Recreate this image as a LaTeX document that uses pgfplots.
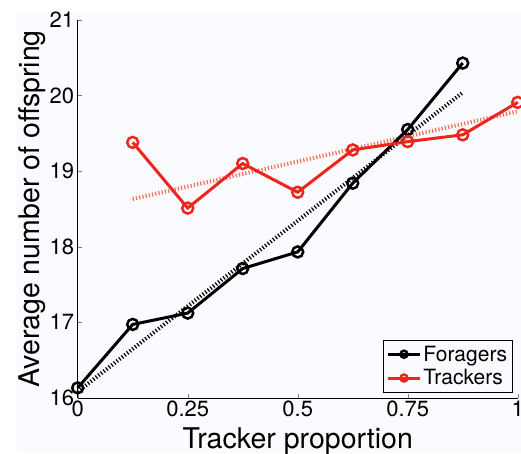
\documentclass[border=0pt]{standalone}
\usepackage{fontspec}
\setmainfont{TeX Gyre Heros}
\usepackage{pgfplots}
\pgfplotsset{compat=1.18}

\definecolor{trk}{RGB}{236,38,28}
\definecolor{trkfit}{RGB}{242,110,88}
\definecolor{figbg}{RGB}{250,251,254}

\begin{document}
\begin{tikzpicture}
\fill[figbg] (-61pt,-55.3pt) rectangle (443.3pt,384.7pt);
\begin{axis}[
  at={(0pt,0pt)}, anchor=south west,
  scale only axis,
  width=440pt, height=377.7pt,
  xmin=0, xmax=1, ymin=16, ymax=21,
  axis x line*=bottom, axis y line*=left,
  tick align=inside,
  major tick length=4pt,
  xtick={0,0.25,0.5,0.75,1},
  xticklabels={0,0.25,0.5,0.75,1},
  ytick={16,17,18,19,20,21},
  /pgf/number format/assume math mode=true,
  tick label style={font=\fontsize{22}{26}\selectfont},
  xlabel={Tracker proportion},
  ylabel={Average number of offspring},
  label style={font=\fontsize{28.5}{32}\selectfont},
  xlabel style={at={(axis description cs:0.5,-0.1332)}, anchor=base},
  ylabel style={at={(axis description cs:-0.0857,0.5)}, anchor=base},
  clip=false,
  legend style={at={(0.9877,0.0134)}, anchor=south east, draw=black, fill=figbg,
    font=\fontsize{21}{24}\selectfont, row sep=3pt, inner xsep=3pt, inner ysep=4pt},
  legend image code/.code={\draw[mark repeat=2,mark phase=2,#1,mark size=3.5pt] plot coordinates {(0pt,0pt) (16pt,0pt) (32pt,0pt)};},
  legend cell align=left,
]
% fitted trends
\addplot[forget plot, black, line width=4pt, dash pattern=on 1.2pt off 2.1pt] coordinates {(0,16.08) (0.875,20.04)};
\addplot[forget plot, trkfit, line width=4pt, dash pattern=on 1.2pt off 2.1pt] coordinates {(0.125,18.63) (1,19.79)};
% data
\addplot[black, line width=3pt, mark=o, mark size=5.5pt, mark options={line width=2.5pt, fill=figbg}]
  coordinates {(0,16.13) (0.125,16.97) (0.25,17.12) (0.375,17.71) (0.5,17.93) (0.625,18.84) (0.75,19.55) (0.875,20.43)};
\addplot[trk, line width=3pt, mark=o, mark size=5.5pt, mark options={line width=2.5pt, fill=figbg}]
  coordinates {(0.125,19.38) (0.25,18.51) (0.375,19.10) (0.5,18.72) (0.625,19.28) (0.75,19.39) (0.875,19.48) (1,19.91)};
\legend{Foragers,Trackers}
\end{axis}
\pgfresetboundingbox
\path[use as bounding box] (-77.7pt,-55.3pt) rectangle (443.3pt,397.7pt);
\end{tikzpicture}
\end{document}
